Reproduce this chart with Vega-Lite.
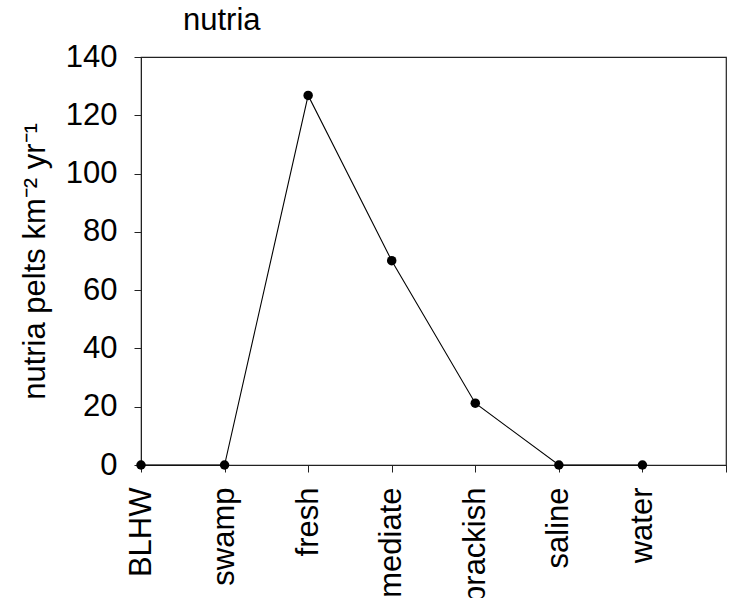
{
  "$schema": "https://vega.github.io/schema/vega-lite/v6.json",
  "autosize": {"type": "none"},
  "padding": {"left": 141, "top": 57, "right": 5, "bottom": 133},
  "width": 585,
  "height": 408,
  "config": {
    "font": "Liberation Sans",
    "view": {"stroke": "#222", "strokeWidth": 1.2},
    "axis": {"grid": false, "domainColor": "#222", "tickColor": "#222", "labelColor": "#000", "titleColor": "#000", "labelFont": "Liberation Sans", "titleFont": "Liberation Sans", "titleFontWeight": "normal"}
  },
  "title": {"text": "nutria", "anchor": "start", "frame": "group", "dx": 42, "offset": -20, "baseline": "alphabetic", "fontSize": 31, "fontWeight": "normal", "font": "Liberation Sans", "color": "#000"},
  "data": {
    "values": [
      {"i": 0, "habitat": "BLHW", "pelts": 0},
      {"i": 1, "habitat": "swamp", "pelts": 0},
      {"i": 2, "habitat": "fresh", "pelts": 126.8},
      {"i": 3, "habitat": "intermediate", "pelts": 70.1},
      {"i": 4, "habitat": "brackish", "pelts": 21.2},
      {"i": 5, "habitat": "saline", "pelts": 0},
      {"i": 6, "habitat": "water", "pelts": 0}
    ]
  },
  "encoding": {
    "x": {
      "field": "i", "type": "quantitative",
      "scale": {"domain": [0, 7], "nice": false, "zero": false},
      "axis": {
        "title": null, "values": [0, 1, 2, 3, 4, 5, 6, 7],
        "labelExpr": "['BLHW','swamp','fresh','intermediate','brackish','saline','water',''][datum.value]",
        "labelAngle": 270, "labelAlign": "right", "labelBaseline": "middle",
        "labelFontSize": 31, "tickSize": 7, "labelPadding": 15, "labelOverlap": false, "labelBound": false, "labelFlush": false
      }
    },
    "y": {
      "field": "pelts", "type": "quantitative",
      "scale": {"domain": [0, 140], "nice": false},
      "axis": {
        "title": "nutria pelts km⁻² yr⁻¹", "values": [0, 20, 40, 60, 80, 100, 120, 140],
        "labelFontSize": 31, "titleFontSize": 31, "tickSize": 7, "labelPadding": 17, "titlePadding": 14, "labelFlush": false
      }
    }
  },
  "layer": [
    {"mark": {"type": "line", "color": "#000", "strokeWidth": 1.1}},
    {"mark": {"type": "point", "filled": true, "color": "#000", "opacity": 1, "size": 90}}
  ]
}
